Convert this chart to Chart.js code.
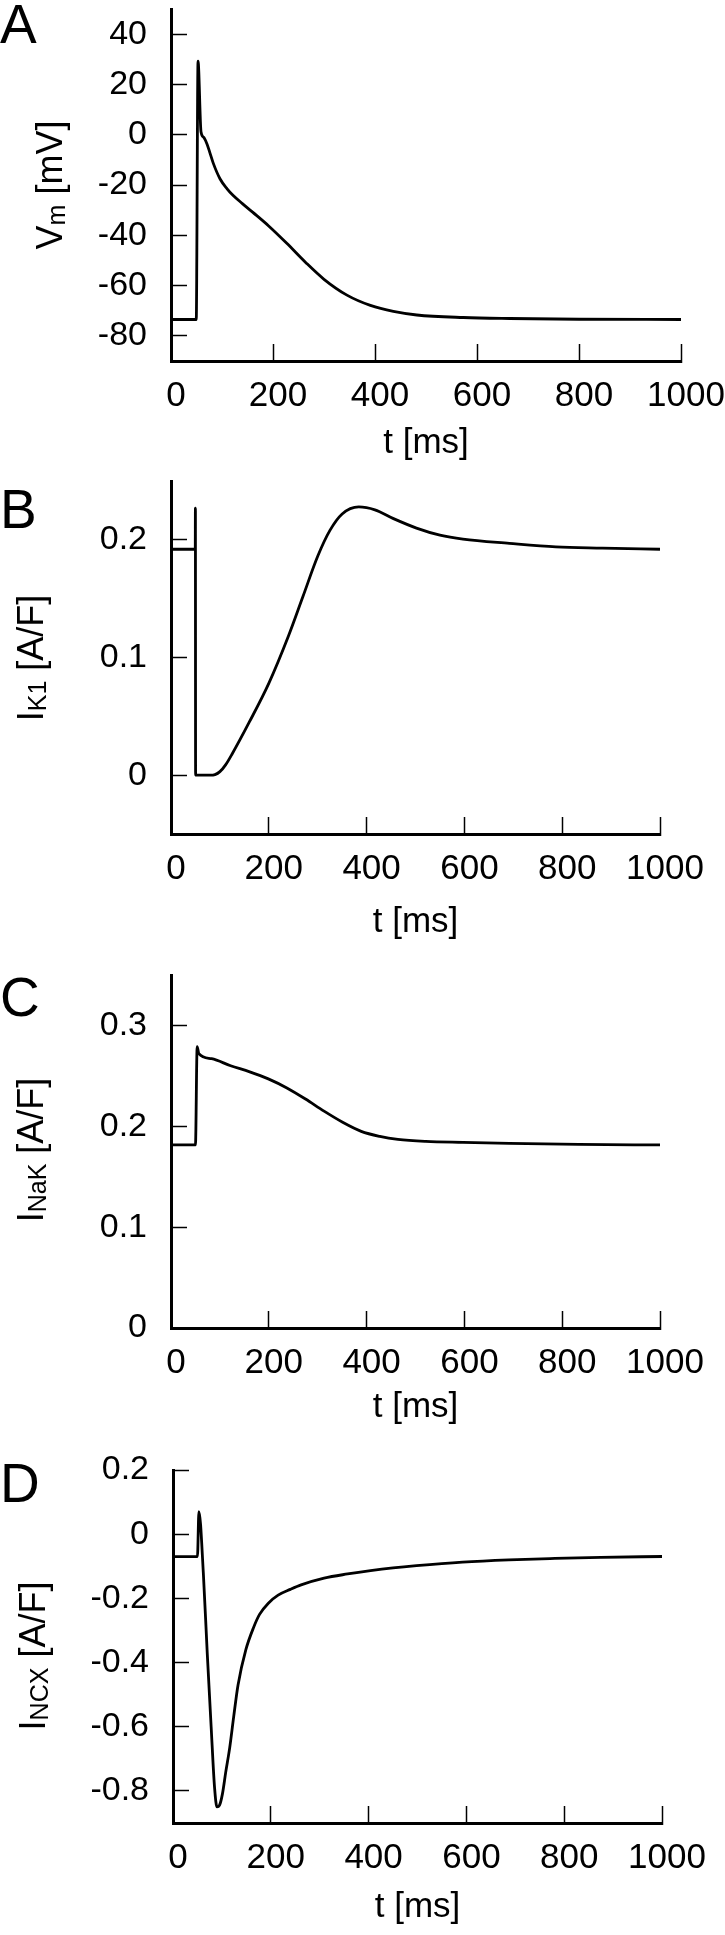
<!DOCTYPE html>
<html>
<head>
<meta charset="utf-8">
<script src="https://cdn.jsdelivr.net/npm/chart.js@4.4.1/dist/chart.umd.min.js"></script>
<style>
  html, body { margin: 0; padding: 0; background: #fff; }
  canvas { display: block; }
</style>
</head>
<body>
<canvas id="panelA" width="725" height="480"></canvas>
<canvas id="panelB" width="725" height="480"></canvas>
<canvas id="panelC" width="725" height="480"></canvas>
<canvas id="panelD" width="725" height="495"></canvas>
<script>
// time axis shared by all panels
const timeTicks = [0, 200, 400, 600, 800, 1000];

// A: membrane potential
const tA = [0, 49.5, 53, 58.8, 64, 70, 76, 83, 96, 110, 122, 140, 160, 191, 227, 264, 300, 345, 391, 436, 482, 573, 664, 800, 1000];
const vmA = [-73.5, -73.5, 29.3, 1.2, -1.0, -3.4, -7.0, -11.4, -17.5, -21.5, -24.2, -27.4, -30.8, -36.2, -43.2, -50.8, -57.5, -63.8, -67.9, -70.3, -71.7, -72.7, -73.1, -73.4, -73.5];
const yTicksA = [-80, -60, -40, -20, 0, 20, 40];

// B: I_K1
const tB = [0, 49.6, 49.9, 50.3, 60, 80, 90, 100, 112, 125, 160, 200, 240, 270, 300, 325, 350, 384, 417, 455, 502, 550, 597, 692, 787, 882, 1000];
const ik1B = [0.192, 0.192, 0.227, 0, 0, 0, 0.0005, 0.003, 0.009, 0.018, 0.045, 0.078, 0.118, 0.152, 0.186, 0.208, 0.222, 0.228, 0.2255, 0.218, 0.21, 0.204, 0.2006, 0.197, 0.194, 0.193, 0.192];
const yTicksB = [0, 0.1, 0.2];

// C: I_NaK
const tC = [0, 50, 53.5, 57, 83, 122, 161, 199, 237, 275, 313, 351, 389, 427, 464, 521, 597, 692, 834, 1000];
const inakC = [0.1815, 0.1815, 0.279, 0.272, 0.267, 0.26, 0.254, 0.247, 0.238, 0.227, 0.215, 0.204, 0.195, 0.19, 0.187, 0.185, 0.184, 0.183, 0.182, 0.1815];
const yTicksC = [0, 0.1, 0.2, 0.3];

// D: I_NCX
const tD = [0, 50, 53, 62, 70, 78, 85, 90, 95, 101, 108, 116, 124, 133, 149, 165, 177, 195, 215, 240, 262, 309, 357, 404, 450, 498, 592, 687, 781, 875, 1000];
const incxD = [-0.0697, -0.0697, 0.0704, -0.12, -0.37, -0.6, -0.79, -0.85, -0.845, -0.81, -0.74, -0.665, -0.57, -0.47, -0.36, -0.29, -0.25, -0.215, -0.19, -0.172, -0.158, -0.137, -0.124, -0.1135, -0.105, -0.098, -0.087, -0.08, -0.0755, -0.072, -0.0696];
const yTicksD = [-0.8, -0.6, -0.4, -0.2, 0, 0.2];

const FONT = "'Liberation Sans', Arial, Helvetica, sans-serif";

// panel letter + rotated y title with a subscript part
const panelText = {
  id: 'panelText',
  afterDraw(chart, args, opts) {
    const ctx = chart.ctx;
    ctx.save();
    ctx.fillStyle = '#000';
    ctx.textAlign = 'left';
    ctx.textBaseline = 'alphabetic';
    ctx.font = `55px ${FONT}`;
    ctx.fillText(opts.letter, 0, opts.letterY);

    ctx.translate(opts.titleX, opts.titleY);
    ctx.rotate(-Math.PI / 2);
    const parts = opts.title.map(([text, sub]) => ({ text, sub, font: `${sub ? 25 : 36}px ${FONT}` }));
    let total = 0;
    parts.forEach((p) => {
      ctx.font = p.font;
      p.w = ctx.measureText(p.text).width;
      total += p.w;
    });
    let x = -total / 2;
    parts.forEach((p) => {
      ctx.font = p.font;
      ctx.fillText(p.text, x, p.sub ? 3 : 0);
      x += p.w;
    });
    ctx.restore();
  },
};

/**
 * @param {Object} p panel settings
 * @returns {Chart}
 */
function buildPanel(p) {
  const el = document.getElementById(p.id);
  const h = el.height;
  return new Chart(el, {
    type: 'line',
    data: {
      datasets: [{
        data: p.xs.map((x, i) => ({ x, y: p.ys[i] })),
        borderColor: '#000',
        borderWidth: 2.8,
        pointRadius: 0,
        fill: false,
        cubicInterpolationMode: 'monotone',
      }],
    },
    options: {
      responsive: false,
      animation: false,
      events: [],
      layout: { padding: { left: 0, top: p.top, right: el.width - p.right, bottom: 0 } },
      plugins: {
        legend: { display: false },
        tooltip: { enabled: false },
        panelText: { letter: p.letter, letterY: p.letterY, title: p.title, titleX: p.titleX, titleY: p.titleY },
      },
      scales: {
        x: {
          type: 'linear',
          min: 0,
          max: 1000,
          afterBuildTicks: (s) => { s.ticks = timeTicks.map((value) => ({ value })); },
          afterFit: (s) => { s.height = h - p.bottom; s.paddingLeft = 0; s.paddingRight = 0; },
          ticks: {
            callback: (v) => String(v), color: '#000', font: { family: FONT, size: 35 },
            padding: 31, labelOffset: 5, autoSkip: false, maxRotation: 0,
          },
          grid: { drawOnChartArea: false, tickLength: -17, tickWidth: 1.5, tickColor: '#000' },
          border: { display: true, color: '#000', width: 3 },
          title: { display: true, text: 't [ms]', color: '#000', font: { family: FONT, size: 35 }, padding: { top: 0, bottom: p.titlePad } },
        },
        y: {
          type: 'linear',
          min: p.min,
          max: p.max,
          afterBuildTicks: (s) => { s.ticks = p.yTicks.map((value) => ({ value })); },
          afterFit: (s) => { s.width = p.left; s.paddingTop = 0; s.paddingBottom = 0; },
          ticks: { callback: (v) => String(v), color: '#000', font: { family: FONT, size: 34 }, padding: 40, autoSkip: false },
          grid: { drawOnChartArea: false, tickLength: -16, tickWidth: 1.5, tickColor: '#000' },
          border: { display: true, color: '#000', width: 3 },
        },
      },
    },
    plugins: [panelText],
  });
}

buildPanel({
  id: 'panelA', xs: tA, ys: vmA, yTicks: yTicksA, min: -90, max: 50,
  left: 171, right: 681, top: 9, bottom: 361, titlePad: 16,
  letter: 'A', letterY: 43, title: [['V'], ['m', true], [' [mV]']], titleX: 62, titleY: 185,
});
buildPanel({
  id: 'panelB', xs: tB, ys: ik1B, yTicks: yTicksB, min: -0.05, max: 0.25,
  left: 171, right: 660, top: 1, bottom: 354, titlePad: 17,
  letter: 'B', letterY: 48, title: [['I'], ['K1', true], [' [A/F]']], titleX: 43, titleY: 178,
});
buildPanel({
  id: 'panelC', xs: tC, ys: inakC, yTicks: yTicksC, min: 0, max: 0.35,
  left: 171, right: 660, top: 15, bottom: 368, titlePad: 12,
  letter: 'C', letterY: 56, title: [['I'], ['NaK', true], [' [A/F]']], titleX: 43, titleY: 190,
});
buildPanel({
  id: 'panelD', xs: tD, ys: incxD, yTicks: yTicksD, min: -0.9, max: 0.2,
  left: 173, right: 662, top: 30, bottom: 383, titlePad: 7,
  letter: 'D', letterY: 62, title: [['I'], ['NCX', true], [' [A/F]']], titleX: 45, titleY: 216,
});
</script>
</body>
</html>
